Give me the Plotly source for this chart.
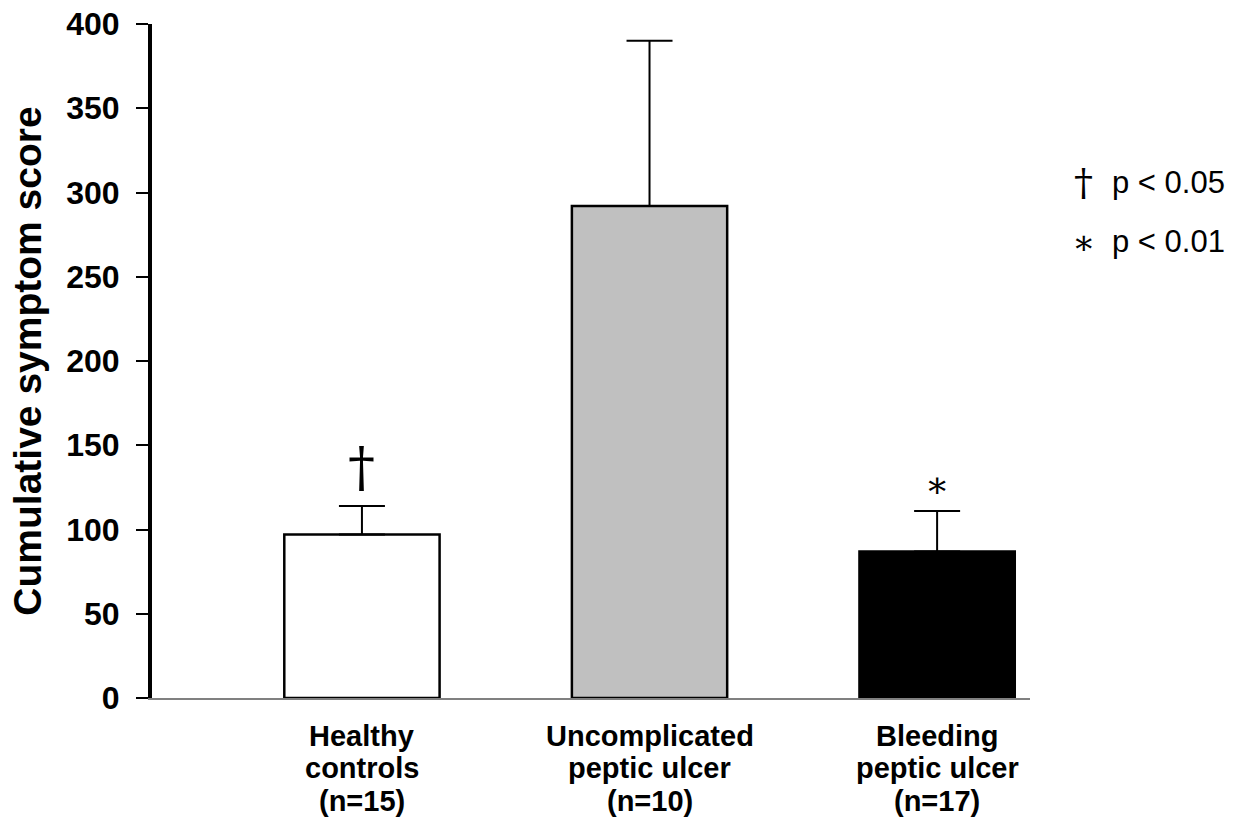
import plotly.graph_objects as go

categories = ["Healthy controls", "Uncomplicated peptic ulcer", "Bleeding peptic ulcer"]
label_lines = [["Healthy", "controls", "(n=15)"],
               ["Uncomplicated", "peptic ulcer", "(n=10)"],
               ["Bleeding", "peptic ulcer", "(n=17)"]]
means = [97, 292, 87]
errors = [17, 98, 24]
fills = ["#FFFFFF", "#C0C0C0", "#000000"]
markers_sig = ["†", "", "∗"]
legend_symbols = ["†", "∗"]
legend_labels = ["p < 0.05", "p < 0.01"]
y_ticks = [0, 50, 100, 150, 200, 250, 300, 350, 400]

FONT = "Liberation Sans, Arial"
SYM_FONT = "DejaVu Serif"

fig = go.Figure()
fig.add_trace(go.Bar(
    x=categories, y=means,
    marker=dict(color=fills, line=dict(color="#000000", width=2.5)),
    width=0.54,
    error_y=dict(type="data", array=errors, arrayminus=[0, 0, 0], symmetric=False,
                 color="#000000", thickness=2, width=23),
    showlegend=False,
))

sig_style = {"†": dict(size=54, yshift=5), "∗": dict(size=36, yshift=4)}
for cat, m, e, s in zip(categories, means, errors, markers_sig):
    if s:
        st = sig_style[s]
        fig.add_annotation(x=cat, y=m + e, text=s, showarrow=False, yanchor="bottom",
                           yshift=st["yshift"],
                           font=dict(family=SYM_FONT, size=st["size"], color="#000000"))

line_shifts = [-37.5, -70, -102.5]
for cat, lines in zip(categories, label_lines):
    for ln, sh in zip(lines, line_shifts):
        fig.add_annotation(x=cat, xref="x", yref="paper", y=0, yanchor="middle", yshift=sh,
                           text=ln, showarrow=False,
                           font=dict(family=FONT, size=29, color="#000000", weight="bold"))

legend_y = [0.765, 0.677]
legend_sym_size = {"†": 38, "∗": 34}
for sym, lab, yy in zip(legend_symbols, legend_labels, legend_y):
    fig.add_annotation(xref="paper", yref="paper", x=1.0604, y=yy, xanchor="center", yanchor="middle",
                       showarrow=False, text=sym,
                       font=dict(family=SYM_FONT, size=legend_sym_size[sym], color="#000000"))
    fig.add_annotation(xref="paper", yref="paper", x=1.0911, y=yy, xanchor="left", yanchor="middle",
                       showarrow=False, text=lab,
                       font=dict(family=FONT, size=31, color="#000000"))

fig.update_layout(
    width=1246, height=821,
    margin=dict(l=152, r=216, t=24, b=123, autoexpand=False),
    paper_bgcolor="white", plot_bgcolor="white",
    font=dict(family=FONT, color="#000000"),
    xaxis=dict(
        type="category", range=[-0.73, 2.323], automargin=False,
        showline=True, linecolor="#808080", linewidth=1.5,
        ticks="", showticklabels=False, showgrid=False, zeroline=False,
    ),
    yaxis=dict(
        range=[0, 400], tickvals=y_ticks, automargin=False,
        showline=True, linecolor="#000000", linewidth=4,
        ticks="outside", ticklen=12, tickwidth=2, tickcolor="#000000",
        ticklabelstandoff=10,
        showgrid=False, zeroline=False,
        tickfont=dict(family=FONT, size=32, color="#000000", weight="bold"),
        title=dict(text="Cumulative symptom score", standoff=14,
                   font=dict(family=FONT, size=39, color="#000000", weight="bold")),
    ),
)

fig.write_html("out.html")
